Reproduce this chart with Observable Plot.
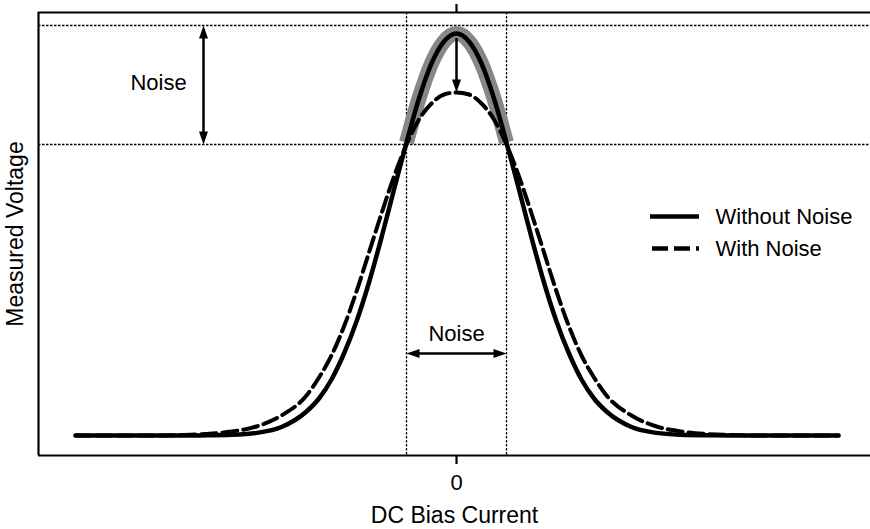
<!DOCTYPE html>
<html>
<head>
<meta charset="utf-8">
<script src="https://cdn.jsdelivr.net/npm/d3@7"></script>
<script src="https://cdn.jsdelivr.net/npm/@observablehq/plot@0.6"></script>
<style>
  html, body { margin: 0; padding: 0; background: #fff; }
  #chart svg { display: block; }
</style>
</head>
<body>
<div id="chart"></div>
<script>
// DC bias current (arbitrary units, 0 at the resonance centre)
const biasCurrent = [
  -3.81, -3, -2.75, -2.5, -2.25, -2, -1.75, -1.5, -1.375, -1.25, -1.125, -1,
  -0.875, -0.75, -0.625, -0.5, -0.375, -0.25, -0.125, 0,
  0.125, 0.25, 0.375, 0.5, 0.625, 0.75, 0.875, 1, 1.125, 1.25, 1.375, 1.5,
  1.75, 2, 2.25, 2.5, 2.75, 3, 3.82
];
// Measured voltage without noise (sharp peak)
const voltageWithoutNoise = [
  0, 0, 0, 0.002, 0.007, 0.026, 0.085, 0.24, 0.37, 0.56, 0.82, 1.14,
  1.53, 1.98, 2.46, 2.93, 3.37, 3.72, 3.94, 4.02,
  3.94, 3.72, 3.37, 2.93, 2.46, 1.98, 1.53, 1.14, 0.82, 0.56, 0.37, 0.24,
  0.085, 0.026, 0.007, 0.002, 0, 0, 0
];
// Measured voltage with noise (lower, broader peak)
const voltageWithNoise = [
  0, 0, 0.005, 0.015, 0.04, 0.09, 0.2, 0.4, 0.58, 0.8, 1.09, 1.44,
  1.83, 2.22, 2.59, 2.91, 3.16, 3.32, 3.41, 3.43,
  3.41, 3.32, 3.16, 2.91, 2.59, 2.22, 1.83, 1.44, 1.09, 0.8, 0.58, 0.4,
  0.2, 0.09, 0.04, 0.015, 0.005, 0, 0
];
const seriesNames = ["Without Noise", "With Noise"];

// Axis extents and tick
const xDomain = [-4.18, 4.14];
const yDomain = [-0.2, 4.23];
const xTicks = [0];
const xTickLabels = ["0"];

// Noise band: voltage levels and current bounds
const noiseVoltage = [4.10, 2.91];
const noiseCurrent = [-0.5, 0.5];

// Annotation anchors
const voltageArrowX = -2.53;
const voltageLabelAt = [-2.98, 3.53];
const currentArrowY = 0.82;
const currentLabelAt = [0, 1.02];
const peakDrop = [3.97, 3.43];

// Legend anchors
const legendLineX = [1.94, 2.43];
const legendRowY = [2.19, 1.87];
const legendTextX = 2.59;

const withoutNoise = biasCurrent.map((x, i) => ({x, y: voltageWithoutNoise[i]}));
const withNoise = biasCurrent.map((x, i) => ({x, y: voltageWithNoise[i]}));
const peakTop = withoutNoise.filter(d => d.x >= noiseCurrent[0] && d.x <= noiseCurrent[1]);

// Filled arrowheads with the tip at the anchor point
const HL = 13, HW = 4.5;
const headUp = {draw(c) { c.moveTo(0, 0); c.lineTo(HW, HL); c.lineTo(-HW, HL); c.closePath(); }};
const headDown = {draw(c) { c.moveTo(0, 0); c.lineTo(HW, -HL); c.lineTo(-HW, -HL); c.closePath(); }};
const headLeft = {draw(c) { c.moveTo(0, 0); c.lineTo(HL, HW); c.lineTo(HL, -HW); c.closePath(); }};
const headRight = {draw(c) { c.moveTo(0, 0); c.lineTo(-HL, HW); c.lineTo(-HL, -HW); c.closePath(); }};

const FONT = "'Liberation Sans', Arial, Helvetica, sans-serif";
const FS = 22;
const TITLE_FS = 23;
const dotted = {stroke: "black", strokeWidth: 1.3, strokeDasharray: "2.5,1.5"};
const dashPattern = "15,6";

const chart = Plot.plot({
  width: 870,
  height: 529,
  marginLeft: 38,
  marginRight: 0,
  marginTop: 12,
  marginBottom: 74,
  style: {fontFamily: FONT, fontSize: FS + "px", color: "black", background: "white"},
  x: {domain: xDomain},
  y: {domain: yDomain, axis: null},
  marks: [
    // dotted guides marking the noise band
    Plot.ruleY(noiseVoltage, dotted),
    Plot.ruleX(noiseCurrent, dotted),

    // grey highlight over the noiseless peak
    Plot.line(peakTop, {x: "x", y: "y", curve: "monotone-x", stroke: "#878787", strokeWidth: 15, strokeLinecap: "butt"}),

    // curves
    Plot.line(withNoise, {x: "x", y: "y", curve: "monotone-x", stroke: "black", strokeWidth: 4, strokeDasharray: dashPattern}),
    Plot.line(withoutNoise, {x: "x", y: "y", curve: "monotone-x", stroke: "black", strokeWidth: 4.5, strokeLinejoin: "round"}),

    // voltage noise: double arrow with label
    Plot.ruleX([voltageArrowX], {y1: noiseVoltage[0], y2: noiseVoltage[1], strokeWidth: 2.5, insetTop: 8, insetBottom: 8}),
    Plot.dot([noiseVoltage[0]], {x: voltageArrowX, y: d => d, symbol: headUp, fill: "black", stroke: "none"}),
    Plot.dot([noiseVoltage[1]], {x: voltageArrowX, y: d => d, symbol: headDown, fill: "black", stroke: "none"}),
    Plot.text(["Noise"], {x: voltageLabelAt[0], y: voltageLabelAt[1], textAnchor: "middle", lineAnchor: "middle", fontSize: FS}),

    // peak drop caused by noise
    Plot.ruleX([0], {y1: peakDrop[0], y2: peakDrop[1], strokeWidth: 2.5, insetBottom: 8}),
    Plot.dot([peakDrop[1]], {x: 0, y: d => d, symbol: headDown, fill: "black", stroke: "none"}),

    // current noise: double arrow with label
    Plot.ruleY([currentArrowY], {x1: noiseCurrent[0], x2: noiseCurrent[1], strokeWidth: 2.5, insetLeft: 8, insetRight: 8}),
    Plot.dot([noiseCurrent[0]], {x: d => d, y: currentArrowY, symbol: headLeft, fill: "black", stroke: "none"}),
    Plot.dot([noiseCurrent[1]], {x: d => d, y: currentArrowY, symbol: headRight, fill: "black", stroke: "none"}),
    Plot.text(["Noise"], {x: currentLabelAt[0], y: currentLabelAt[1], textAnchor: "middle", lineAnchor: "middle", fontSize: FS}),

    // legend
    Plot.ruleY([legendRowY[0]], {x1: legendLineX[0], x2: legendLineX[1], stroke: "black", strokeWidth: 4.5}),
    Plot.ruleY([legendRowY[1]], {x1: legendLineX[0] + 0.02, x2: legendLineX[1], stroke: "black", strokeWidth: 4.5, strokeDasharray: "16,6"}),
    Plot.text(seriesNames, {x: legendTextX, y: (d, i) => legendRowY[i], textAnchor: "start", lineAnchor: "middle", fontSize: FS}),

    // frame: left, top and bottom spines
    Plot.ruleX([xDomain[0]], {strokeWidth: 2.2}),
    Plot.ruleY([yDomain[1]], {strokeWidth: 2.2}),
    Plot.ruleY([yDomain[0]], {strokeWidth: 2.2}),

    // x ticks, bottom with label and top without
    Plot.axisX({anchor: "bottom", ticks: xTicks, tickFormat: (d, i) => xTickLabels[i], tickSize: 9, tickPadding: 10, strokeWidth: 2.2, fontSize: FS, label: null}),
    Plot.axisX({anchor: "top", ticks: xTicks, text: null, tickSize: 9, strokeWidth: 2.2, label: null}),

    // axis titles
    Plot.text(["DC Bias Current"], {frameAnchor: "bottom", dy: 60, textAnchor: "middle", lineAnchor: "middle", fontSize: TITLE_FS}),
    Plot.text(["Measured Voltage"], {frameAnchor: "left", dx: -23, rotate: -90, textAnchor: "middle", lineAnchor: "middle", fontSize: TITLE_FS})
  ]
});

document.getElementById("chart").appendChild(chart);
</script>
</body>
</html>
